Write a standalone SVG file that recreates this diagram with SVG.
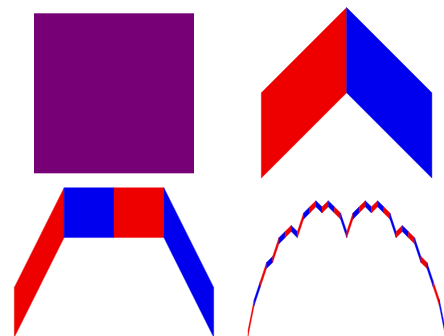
<svg xmlns="http://www.w3.org/2000/svg" width="444" height="336" viewBox="0 0 444 336">
<style>
.r{fill:#ee0000;stroke:#ee0000;stroke-width:0.4;vector-effect:non-scaling-stroke}
.b{fill:#0000ee;stroke:#0000ee;stroke-width:0.4;vector-effect:non-scaling-stroke}
.p{fill:#770077}
</style>
<rect width="444" height="336" fill="#ffffff"/>
<g id="level0">
<rect class="p" x="34" y="13.3" width="160" height="160"/>
</g>
<g id="level1" transform="translate(261.3,92.8) scale(85.3)">
<polygon class="r" points="0,0 1,-1 1,0 0,1"/>
<polygon class="b" points="1,-1 2,0 2,1 1,0"/>
</g>
<g id="level2" transform="translate(14.3,287.4) scale(49.85)">
<polygon class="r" points="0,0 1,-2 1,-1 0,1"/>
<polygon class="b" points="1,-2 2,-2 2,-1 1,-1"/>
<polygon class="r" points="2,-2 3,-2 3,-1 2,-1"/>
<polygon class="b" points="3,-2 4,0 4,1 3,-1"/>
</g>
<g id="level5" transform="translate(248,330.3) scale(6.171875)">
<polygon class="r" points="0,0 1,-5 1,-4 0,1"/>
<polygon class="b" points="1,-5 2,-8 2,-7 1,-4"/>
<polygon class="r" points="2,-8 3,-11 3,-10 2,-7"/>
<polygon class="b" points="3,-11 4,-12 4,-11 3,-10"/>
<polygon class="r" points="4,-12 5,-15 5,-14 4,-11"/>
<polygon class="b" points="5,-15 6,-16 6,-15 5,-14"/>
<polygon class="r" points="6,-16 7,-17 7,-16 6,-15"/>
<polygon class="b" points="7,-17 8,-16 8,-15 7,-16"/>
<polygon class="r" points="8,-16 9,-19 9,-18 8,-15"/>
<polygon class="b" points="9,-19 10,-20 10,-19 9,-18"/>
<polygon class="r" points="10,-20 11,-21 11,-20 10,-19"/>
<polygon class="b" points="11,-21 12,-20 12,-19 11,-20"/>
<polygon class="r" points="12,-20 13,-21 13,-20 12,-19"/>
<polygon class="b" points="13,-21 14,-20 14,-19 13,-20"/>
<polygon class="r" points="14,-20 15,-19 15,-18 14,-19"/>
<polygon class="b" points="15,-19 16,-16 16,-15 15,-18"/>
<polygon class="r" points="16,-16 17,-19 17,-18 16,-15"/>
<polygon class="b" points="17,-19 18,-20 18,-19 17,-18"/>
<polygon class="r" points="18,-20 19,-21 19,-20 18,-19"/>
<polygon class="b" points="19,-21 20,-20 20,-19 19,-20"/>
<polygon class="r" points="20,-20 21,-21 21,-20 20,-19"/>
<polygon class="b" points="21,-21 22,-20 22,-19 21,-20"/>
<polygon class="r" points="22,-20 23,-19 23,-18 22,-19"/>
<polygon class="b" points="23,-19 24,-16 24,-15 23,-18"/>
<polygon class="r" points="24,-16 25,-17 25,-16 24,-15"/>
<polygon class="b" points="25,-17 26,-16 26,-15 25,-16"/>
<polygon class="r" points="26,-16 27,-15 27,-14 26,-15"/>
<polygon class="b" points="27,-15 28,-12 28,-11 27,-14"/>
<polygon class="r" points="28,-12 29,-11 29,-10 28,-11"/>
<polygon class="b" points="29,-11 30,-8 30,-7 29,-10"/>
<polygon class="r" points="30,-8 31,-5 31,-4 30,-7"/>
<polygon class="b" points="31,-5 32,0 32,1 31,-4"/>
</g>
</svg>
